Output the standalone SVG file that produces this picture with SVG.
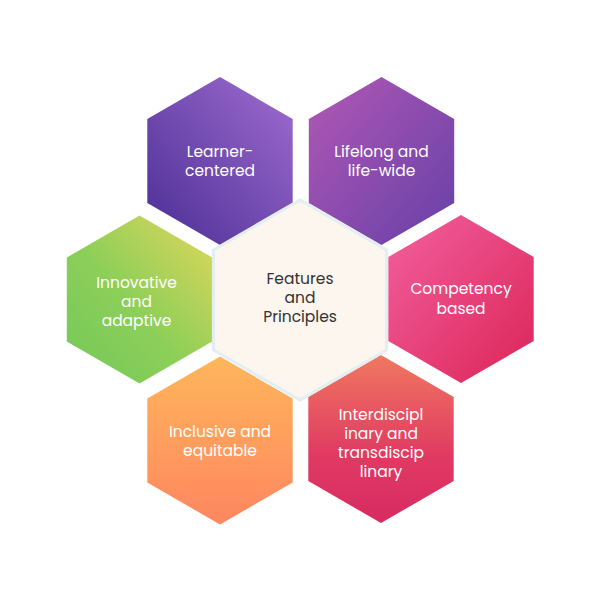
<svg xmlns="http://www.w3.org/2000/svg" xmlns:xlink="http://www.w3.org/1999/xlink" width="600" height="600" viewBox="0 0 600 600">
<style>
.lbl{font-family:Poppins,Inter,"Noto Sans",sans-serif;font-size:15.5px;font-weight:400;fill:#ffffff;text-anchor:middle}
.ctr{fill:#333333}
</style>
<defs>
<path id="hex" d="M0,-84 L72.7,-42 L72.7,42 L0,84 L-72.7,42 L-72.7,-42 Z"/>
<linearGradient id="gLC" x1="1" y1="0" x2="0" y2="1"><stop offset="0" stop-color="#a06cd0"/><stop offset="1" stop-color="#4a2e94"/></linearGradient>
<linearGradient id="gLL" x1="0" y1="0" x2="1" y2="1"><stop offset="0" stop-color="#b158b4"/><stop offset="1" stop-color="#6640a8"/></linearGradient>
<linearGradient id="gIA" x1="1" y1="0" x2="0" y2="1"><stop offset="0" stop-color="#e2d65c"/><stop offset="0.55" stop-color="#8ccf58"/><stop offset="1" stop-color="#74c85a"/></linearGradient>
<linearGradient id="gCB" x1="0" y1="0" x2="1" y2="1"><stop offset="0" stop-color="#f2609e"/><stop offset="1" stop-color="#dc2458"/></linearGradient>
<linearGradient id="gIE" x1="0" y1="0" x2="0" y2="1"><stop offset="0" stop-color="#ffb65a"/><stop offset="1" stop-color="#fe8660"/></linearGradient>
<linearGradient id="gID" x1="0" y1="0" x2="0" y2="1"><stop offset="0" stop-color="#f07860"/><stop offset="0.6" stop-color="#e03a62"/><stop offset="1" stop-color="#d82a62"/></linearGradient>
</defs>
<rect width="600" height="600" fill="#ffffff"/>
<g id="connectors"/>
<g id="learner-centered" transform="translate(220,161)">
<use href="#hex" fill="url(#gLC)"/>
<text class="lbl" y="-4">Learner-</text>
<text class="lbl" y="15">centered</text>
</g>
<g id="lifelong" transform="translate(381.5,161)">
<use href="#hex" fill="url(#gLL)"/>
<text class="lbl" y="-4">Lifelong and</text>
<text class="lbl" y="15">life-wide</text>
</g>
<g id="innovative" transform="translate(139.5,299.5)">
<use href="#hex" fill="url(#gIA)"/>
<text class="lbl" x="-3" y="-12">Innovative</text>
<text class="lbl" x="-3" y="7">and</text>
<text class="lbl" x="-3" y="26">adaptive</text>
</g>
<g id="competency" transform="translate(461,299)">
<use href="#hex" fill="url(#gCB)"/>
<text class="lbl" y="-5">Competency</text>
<text class="lbl" y="15">based</text>
</g>
<g id="inclusive" transform="translate(220,440.5)">
<use href="#hex" fill="url(#gIE)"/>
<text class="lbl" y="-4">Inclusive and</text>
<text class="lbl" y="15">equitable</text>
</g>
<g id="interdisciplinary" transform="translate(381,439)">
<use href="#hex" fill="url(#gID)"/>
<text class="lbl" y="-19">Interdiscipl</text>
<text class="lbl" y="0">inary and</text>
<text class="lbl" y="19">transdiscip</text>
<text class="lbl" y="38">linary</text>
</g>
<g id="center" transform="translate(300,300)">
<path d="M0,-100 L86.6,-50 L86.6,50 L0,100 L-86.6,50 L-86.6,-50 Z" fill="#fdf6ee" stroke="#e2eef2" stroke-width="3"/>
<text class="lbl ctr" y="-16">Features</text>
<text class="lbl ctr" y="3">and</text>
<text class="lbl ctr" y="22">Principles</text>
</g>
</svg>
